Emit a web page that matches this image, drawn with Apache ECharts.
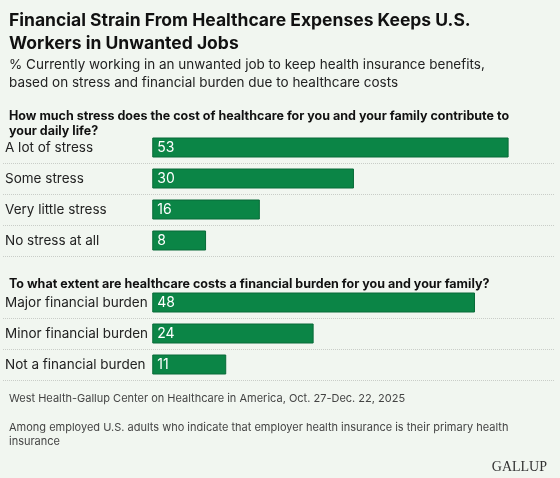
<!DOCTYPE html>
<html>
<head>
<meta charset="UTF-8">
<script src="https://cdn.jsdelivr.net/npm/echarts@6/dist/echarts.min.js"></script>
<style>
  html,body{margin:0;padding:0;background:#f1f6f0;}
  #chart{width:560px;height:478px;}
</style>
</head>
<body>
<div id="chart"></div>
<script>
var stressCats = ['A lot of stress', 'Some stress', 'Very little stress', 'No stress at all'];
var stressVals = [53, 30, 16, 8];
var burdenCats = ['Major financial burden', 'Minor financial burden', 'Not a financial burden'];
var burdenVals = [48, 24, 11];

var font = 'Inter, "Liberation Sans", sans-serif';
var green = '#0b8546';

function xAx(i){
  return {gridIndex: i, type: 'value', min: -22.2, max: 59.9, show: false};
}
function yAx(i, cats){
  return {
    gridIndex: i, type: 'category', data: cats, inverse: true,
    axisLine: {show: false}, axisTick: {show: false},
    axisLabel: {inside: true, margin: 2, align: 'left', color: '#222', fontSize: 13.5, fontFamily: font},
    splitLine: {show: true, interval: function(idx){ return idx > 0; },
      lineStyle: {color: '#c9cdc8', type: 'dotted'}}
  };
}
function bars(i, vals){
  return {
    type: 'bar', xAxisIndex: i, yAxisIndex: i, data: vals, barWidth: 20,
    itemStyle: {color: green, borderColor: '#086b38', borderWidth: 1},
    label: {show: true, position: 'insideLeft', distance: 5, color: '#fff', fontSize: 14, fontFamily: font},
    silent: true
  };
}

var chart = echarts.init(document.getElementById('chart'));
chart.setOption({
  backgroundColor: '#f1f6f0',
  animation: false,
  title: [
    {text: 'Financial Strain From Healthcare Expenses Keeps U.S.\nWorkers in Unwanted Jobs', left: 4, top: 4,
      textStyle: {fontSize: 17.5, fontWeight: 'bold', color: '#111', fontFamily: font, lineHeight: 23}},
    {text: '% Currently working in an unwanted job to keep health insurance benefits,\nbased on stress and financial burden due to healthcare costs', left: 4, top: 51,
      textStyle: {fontSize: 13.5, fontWeight: 'normal', color: '#222', fontFamily: font, lineHeight: 18}},
    {text: 'How much stress does the cost of healthcare for you and your family contribute to\nyour daily life?', left: 4, top: 104,
      textStyle: {fontSize: 12.5, fontWeight: 'bold', color: '#111', fontFamily: font, lineHeight: 15}},
    {text: 'To what extent are healthcare costs a financial burden for you and your family?', left: 4, top: 273,
      textStyle: {fontSize: 12.5, fontWeight: 'bold', color: '#111', fontFamily: font}},
    {text: 'West Health-Gallup Center on Healthcare in America, Oct. 27-Dec. 22, 2025', left: 4, top: 388,
      textStyle: {fontSize: 11, fontWeight: 'normal', color: '#444', fontFamily: font}},
    {text: 'Among employed U.S. adults who indicate that employer health insurance is their primary health\ninsurance', left: 4, top: 416,
      textStyle: {fontSize: 11, fontWeight: 'normal', color: '#444', fontFamily: font, lineHeight: 14}},
    {text: 'GALLUP', right: 8, top: 455,
      textStyle: {fontSize: 14, fontWeight: 'normal', color: '#333', fontFamily: '"Liberation Serif", serif', letterSpacing: 1}}
  ],
  grid: [
    {left: 3, right: 5, top: 132, height: 124},
    {left: 3, right: 5, top: 287, height: 93}
  ],
  xAxis: [xAx(0), xAx(1)],
  yAxis: [yAx(0, stressCats), yAx(1, burdenCats)],
  series: [bars(0, stressVals), bars(1, burdenVals)]
});
</script>
</body>
</html>
